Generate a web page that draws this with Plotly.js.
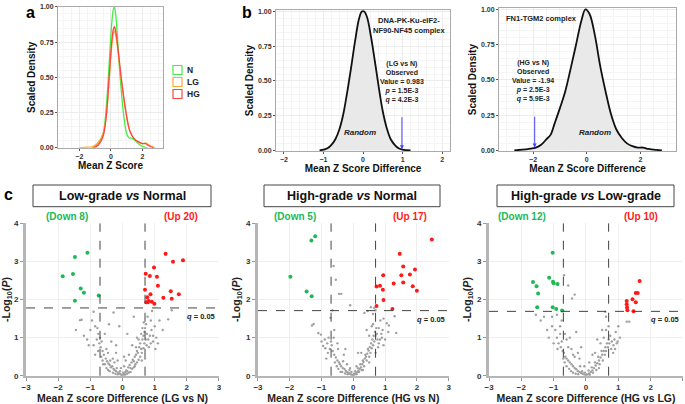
<!DOCTYPE html>
<html>
<head>
<meta charset="utf-8">
<script src="https://cdn.plot.ly/plotly-3.0.1.min.js"></script>
<style>
  body { margin: 0; background: #fff; }
  #plot { width: 685px; height: 404px; }
</style>
</head>
<body>
<div id="plot"></div>
<script>
// ---- panel a: scaled densities of mean Z score
const densX_N  = [-1.2, -0.8, -0.5, -0.3, -0.1, 0.05, 0.15, 0.22, 0.3, 0.45, 0.6, 0.8, 1.0, 1.15, 1.3, 1.55, 1.75, 2.0, 2.3];
const densY_N  = [0, 0.03, 0.1, 0.28, 0.62, 0.88, 0.98, 1.0, 0.95, 0.72, 0.48, 0.24, 0.1, 0.07, 0.07, 0.05, 0.03, 0.01, 0];
const densX_LG = [-2.0, -1.5, -1.1, -0.8, -0.5, -0.3, -0.1, 0.05, 0.15, 0.22, 0.3, 0.45, 0.6, 0.8, 1.0, 1.2, 1.5, 1.8, 2.0, 2.2, 2.4, 2.6, 2.8];
const densY_LG = [0, 0.005, 0.01, 0.04, 0.1, 0.22, 0.5, 0.72, 0.81, 0.83, 0.8, 0.68, 0.53, 0.36, 0.22, 0.12, 0.06, 0.04, 0.03, 0.035, 0.02, 0.01, 0];
const densX_HG = [-1.1, -0.8, -0.5, -0.3, -0.1, 0.05, 0.15, 0.22, 0.3, 0.45, 0.6, 0.8, 1.0, 1.2, 1.5, 1.8, 2.0, 2.2, 2.4, 2.7];
const densY_HG = [0, 0.02, 0.08, 0.22, 0.52, 0.75, 0.84, 0.86, 0.83, 0.7, 0.55, 0.37, 0.22, 0.12, 0.06, 0.04, 0.03, 0.03, 0.015, 0];
const groupNames = ["N", "LG", "HG"];
const groupColors = ["#44ee44", "#ffaa33", "#ff4444"];

// ---- panel b: random (null) distributions
const randX_b1 = [-1.1, -1.0, -0.9, -0.8, -0.7, -0.6, -0.5, -0.4, -0.3, -0.2, -0.1, -0.03, 0.03, 0.1, 0.2, 0.3, 0.4, 0.5, 0.6, 0.7, 0.8, 0.9, 1.0, 1.1, 1.2];
const randY_b1 = [0, 0.005, 0.015, 0.04, 0.08, 0.15, 0.26, 0.42, 0.6, 0.79, 0.95, 1.0, 1.0, 0.96, 0.82, 0.64, 0.45, 0.28, 0.16, 0.08, 0.04, 0.015, 0.005, 0.002, 0];
const randX_b2 = [-2.7, -2.4, -2.1, -1.9, -1.7, -1.5, -1.35, -1.2, -1.0, -0.8, -0.6, -0.4, -0.2, -0.05, 0.1, 0.3, 0.5, 0.7, 0.9, 1.1, 1.3, 1.5, 1.7, 1.9, 2.1, 2.3, 2.6, 2.8];
const randY_b2 = [0, 0.005, 0.013, 0.02, 0.04, 0.08, 0.11, 0.19, 0.3, 0.42, 0.58, 0.75, 0.92, 1.0, 0.97, 0.82, 0.6, 0.42, 0.26, 0.15, 0.09, 0.05, 0.03, 0.02, 0.02, 0.01, 0.003, 0];
const observedB1 = 0.983;
const observedB2 = -1.94;

// ---- panel c: volcano plots [mean Z diff, -log10 P]
const lgnDown = [[-1.86, 2.61], [-1.54, 2.67], [-1.48, 3.12], [-1.09, 3.23], [-1.30, 2.29], [-1.20, 2.18], [-1.48, 1.97], [-0.74, 2.11]];
const lgnUp = [[1.34, 3.20], [1.57, 2.99], [1.88, 3.03], [0.98, 2.84], [0.72, 2.68], [0.85, 2.62], [1.07, 2.60], [1.10, 2.36], [0.70, 2.26], [0.87, 2.14],
  [0.77, 2.06], [1.50, 2.22], [1.75, 2.14], [1.27, 2.05], [1.53, 2.02], [0.74, 1.93], [0.79, 1.93], [0.91, 1.94], [0.99, 1.89], [0.81, 1.96]];
const lgnGray = [[-1.32,1.46],[-1.27,1.47],[-1.45,1.2],[-1.2,1.05],[-1.1,0.95],[-1.0,1.2],[-0.9,1.68],[-0.95,1.45],[-0.85,1.3],[-0.78,1.25],[-0.75,1.1],
  [-0.8,0.95],[-0.72,0.85],[-0.68,0.75],[-0.62,0.65],[-0.58,0.55],[-0.66,0.5],[-0.52,0.45],[-0.48,0.38],[-0.44,0.32],[-0.4,0.28],[-0.36,0.22],[-0.32,0.25],
  [-0.28,0.18],[-0.25,0.15],[-0.2,0.12],[-0.18,0.2],[-0.14,0.08],[-0.1,0.06],[-0.06,0.04],[-0.03,0.02],[0,0.01],[0.03,0.03],[0.06,0.05],[0.09,0.1],
  [0.12,0.14],[0.15,0.12],[0.18,0.22],[0.22,0.28],[0.25,0.2],[0.28,0.35],[0.32,0.42],[0.35,0.38],[0.38,0.5],[0.42,0.55],[0.45,0.65],[0.48,0.6],
  [0.52,0.75],[0.55,0.85],[0.58,0.7],[0.62,0.95],[0.65,1.05],[0.68,1.15],[0.7,1.25],[0.73,1.35],[0.76,1.1],[0.8,0.95],[0.85,1.05],[0.9,1.2],
  [0.95,0.9],[1.0,1.3],[1.05,1.0],[1.1,0.85],[0.88,1.45],[0.78,1.55],[0.92,1.7],[1.15,1.45],[1.42,1.48],[1.53,1.72],[1.25,1.2],[0.35,1.55],
  [-0.28,1.66],[-0.42,1.35],[-0.55,1.1],[-0.1,1.3],[0.15,1.1],[-0.35,0.9],[-0.2,0.6],[0.1,0.4],[0.3,0.8],[0.45,1.0],[-0.6,0.3],[-0.5,0.7],
  [0.6,0.4],[-0.15,0.4],[0.2,0.55],[-0.05,0.2],[0.05,0.25],[-0.25,0.35],[0.38,0.25],
  [-0.62,0.4],[-0.55,0.3],[-0.5,0.2],[-0.45,0.15],[-0.4,0.12],[-0.38,0.4],[-0.3,0.08],[-0.22,0.05],[-0.15,0.03],[-0.08,0.12],[0.02,0.08],
  [0.08,0.02],[0.14,0.05],[0.2,0.08],[0.25,0.1],[0.3,0.18],[0.35,0.22],[0.4,0.3],[0.45,0.35],[0.5,0.42],[0.55,0.5],[0.6,0.6],[0.65,0.72],
  [0.68,0.85],[0.72,0.95],[0.75,0.8],[0.82,0.75],[0.88,0.85],[0.42,0.75],[0.5,0.95],[0.58,1.1],[0.62,1.25],[-0.7,1.0],[-0.76,0.65],
  [-0.85,0.55],[-0.9,0.8],[-1.05,0.8],[-0.65,0.9],[-0.45,0.6],[-0.3,0.45],[0.95,1.05],[1.02,0.7],[0.66,1.4],[0.7,0.45],[-0.2,0.8],[0.05,0.5]];

const hgnDown = [[-1.98, 2.60], [-1.32, 3.55], [-1.20, 3.66], [-1.47, 2.21], [-1.31, 2.09]];
const hgnUp = [[2.47, 3.58], [1.46, 3.20], [1.57, 2.87], [0.94, 2.64], [1.51, 2.64], [1.78, 2.66], [1.94, 2.79], [1.57, 2.45], [1.27, 2.42],
  [0.84, 2.36], [0.73, 2.34], [1.87, 2.35], [2.00, 2.23], [0.93, 2.26], [0.95, 1.99], [0.73, 1.83], [1.23, 1.75]];
const hgnGray = [[-0.62,2.88],[-0.55,2.52],[-0.45,2.15],[-0.38,2.15],[-0.1,1.85],[0.35,1.65],[0.45,1.7],[0.55,1.8],[0.62,1.62],[0.66,1.78],
  [0.7,1.72],[0.95,1.5],[1.05,1.38],[1.12,1.32],[1.3,1.56],[1.35,1.12],[0.85,1.45],[0.8,1.25],[-1.3,1.32],[-1.25,1.36],[-1.1,1.12],[-1.02,1.08],
  [-0.95,0.78],[-0.88,0.72],[-0.78,1.0],[-0.72,1.52],[-0.66,1.72],[-0.7,0.9],[-0.65,0.65],[-0.6,0.55],[-0.55,0.48],[-0.5,0.4],[-0.45,0.35],
  [-0.42,0.3],[-0.38,0.25],[-0.33,0.2],[-0.28,0.18],[-0.24,0.13],[-0.2,0.1],[-0.16,0.08],[-0.12,0.06],[-0.08,0.04],[-0.04,0.02],[0,0.01],
  [0.04,0.03],[0.08,0.06],[0.12,0.09],[0.16,0.13],[0.2,0.18],[0.24,0.22],[0.28,0.3],[0.32,0.36],[0.36,0.45],[0.4,0.5],[0.44,0.58],[0.48,0.66],
  [0.52,0.75],[0.56,0.85],[0.6,0.95],[0.64,1.05],[0.68,1.15],[0.72,1.25],[0.76,0.95],[0.8,0.85],[0.9,1.0],[0.95,0.8],[1.0,0.95],[0.58,1.3],
  [0.42,1.2],[0.25,0.6],[-0.3,0.55],[-0.5,0.85],[-0.8,0.6],[-0.2,0.3],[0.1,0.25],[-0.1,0.2],[0.3,0.15],[-0.35,0.1],[0.5,0.35],[-0.6,1.2],
  [0.7,0.6],[-0.85,0.45],
  [-0.58,0.35],[-0.52,0.25],[-0.47,0.18],[-0.4,0.1],[-0.32,0.38],[-0.26,0.06],[-0.18,0.04],[-0.12,0.15],[-0.06,0.1],[0.02,0.05],[0.06,0.12],
  [0.1,0.04],[0.14,0.2],[0.18,0.1],[0.22,0.3],[0.26,0.15],[0.3,0.4],[0.34,0.25],[0.38,0.55],[0.42,0.4],[0.46,0.7],[0.5,0.5],[0.54,0.6],
  [0.58,0.72],[0.62,0.8],[0.66,0.9],[0.7,1.05],[0.74,1.1],[0.78,0.75],[0.84,0.95],[0.88,1.1],[-0.68,0.8],[-0.74,0.7],[-0.82,0.85],
  [-0.9,0.95],[-1.0,0.9],[-0.62,1.0],[-0.48,0.7],[0.62,1.35],[0.5,1.05],[0.92,1.2],[1.1,1.15],[-0.25,0.7],[0.15,0.6]];

const hglDown = [[-1.03, 3.23], [-1.14, 2.57], [-1.64, 2.46], [-1.02, 2.47], [-1.00, 2.43], [-0.88, 2.41], [-1.53, 2.35], [-1.48, 2.16],
  [-1.51, 1.80], [-1.03, 1.80], [-0.92, 1.75], [-0.74, 1.71]];
const hglUp = [[1.66, 2.49], [1.54, 2.17], [1.60, 2.17], [1.44, 2.01], [1.54, 1.93], [1.26, 1.96], [1.26, 1.88], [1.27, 1.79], [1.28, 1.72], [1.47, 1.69]];
const hglGray = [[-0.68,2.64],[-0.55,2.37],[-0.35,2.13],[-0.43,2.03],[-0.9,1.6],[-1.05,1.55],[-1.3,1.55],[-1.55,1.6],[-0.75,1.45],[-0.8,1.3],
  [-0.95,1.2],[-1.05,1.3],[-1.15,1.0],[-0.9,1.0],[-0.85,0.85],[-0.78,0.75],[-0.72,0.65],[-0.68,0.6],[-0.64,0.5],[-0.6,0.45],[-0.55,0.4],
  [-0.5,0.35],[-0.45,0.3],[-0.4,0.25],[-0.35,0.2],[-0.3,0.17],[-0.25,0.12],[-0.2,0.1],[-0.15,0.07],[-0.1,0.05],[-0.05,0.03],[0,0.01],[0.05,0.03],
  [0.1,0.06],[0.15,0.1],[0.2,0.14],[0.25,0.2],[0.3,0.27],[0.35,0.33],[0.4,0.4],[0.45,0.48],[0.5,0.55],[0.55,0.65],[0.6,0.75],[0.65,0.85],
  [0.7,0.95],[0.75,1.05],[0.8,0.9],[0.85,0.8],[0.9,0.7],[0.95,0.85],[0.7,1.3],[0.62,1.55],[0.6,1.68],[0.5,1.2],[0.35,0.95],[0.2,0.55],
  [-0.2,0.45],[-0.45,0.7],[-0.6,0.95],[-0.5,1.0],[-0.3,1.15],[-0.15,0.75],[0.1,0.35],[-0.05,0.25],[1.26,1.42],[1.34,1.42],[1.0,1.3],
  [0.92,1.15],[-1.4,1.45],[-1.2,1.2],[-0.7,1.7],[0.4,0.2],[-0.35,0.5],
  [-0.7,0.45],[-0.66,0.35],[-0.6,0.25],[-0.52,0.18],[-0.46,0.12],[-0.4,0.08],[-0.32,0.05],[-0.24,0.04],[-0.18,0.25],[-0.12,0.12],[-0.04,0.08],
  [0.02,0.04],[0.08,0.14],[0.12,0.02],[0.18,0.22],[0.22,0.08],[0.28,0.35],[0.32,0.15],[0.38,0.5],[0.42,0.3],[0.48,0.65],[0.52,0.4],[0.58,0.55],
  [0.62,0.65],[0.68,0.75],[0.72,0.85],[0.78,0.7],[0.84,0.6],[0.88,0.95],[0.98,0.9],[1.05,1.0],[-0.75,0.9],[-0.8,1.1],[-0.88,0.7],
  [-1.0,0.85],[-0.65,1.1],[-0.55,0.75],[-0.4,0.55],[0.55,1.0],[0.45,0.85],[0.28,0.6],[-0.25,0.6],[0.62,1.2]];

const volcanoTitles = ["Low-grade <i>vs</i> Normal", "High-grade <i>vs</i> Normal", "High-grade <i>vs</i> Low-grade"];
const volcanoXTitles = ["Mean Z score Difference (LG vs N)", "Mean Z score Difference (HG vs N)", "Mean Z score Difference (HG vs LG)"];
const downLabels = ["(Down 8)", "(Down 5)", "(Down 12)"];
const upLabels = ["(Up 20)", "(Up 17)", "(Up 10)"];
const qLines = [1.78, 1.71, 1.69];
const fcCut = 0.7;

const FONT = "Liberation Sans, Arial, sans-serif";
const GREEN = "#1db954";
const RED = "#ff1a1a";

let data = [];

// panel a
[[densX_N, densY_N], [densX_LG, densY_LG], [densX_HG, densY_HG]].forEach(function (d, i) {
  data.push({x: d[0], y: d[1], type: "scatter", mode: "lines", name: groupNames[i], showlegend: false,
    line: {color: groupColors[i], width: 1.3, shape: "spline"}, xaxis: "x", yaxis: "y"});
});

// panel b
data.push({x: randX_b1, y: randY_b1, type: "scatter", mode: "lines", fill: "tozeroy", fillcolor: "#e9e9e9",
  line: {color: "#111", width: 1.8, shape: "spline"}, showlegend: false, xaxis: "x2", yaxis: "y2"});
data.push({x: randX_b2, y: randY_b2, type: "scatter", mode: "lines", fill: "tozeroy", fillcolor: "#e9e9e9",
  line: {color: "#111", width: 1.8, shape: "spline"}, showlegend: false, xaxis: "x3", yaxis: "y3"});

// panel c
const volcanoSets = [[lgnGray, lgnDown, lgnUp], [hgnGray, hgnDown, hgnUp], [hglGray, hglDown, hglUp]];
volcanoSets.forEach(function (set, i) {
  const xa = "x" + (i + 4), ya = "y" + (i + 4);
  data.push({x: set[0].map(p => p[0]), y: set[0].map(p => p[1]), type: "scatter", mode: "markers",
    marker: {color: "#a0a0a0", size: 2.4}, showlegend: false, xaxis: xa, yaxis: ya});
  data.push({x: set[1].map(p => p[0]), y: set[1].map(p => p[1]), type: "scatter", mode: "markers",
    marker: {color: GREEN, size: 4}, showlegend: false, xaxis: xa, yaxis: ya});
  data.push({x: set[2].map(p => p[0]), y: set[2].map(p => p[1]), type: "scatter", mode: "markers",
    marker: {color: RED, size: 4}, showlegend: false, xaxis: xa, yaxis: ya});
});

const tickF = {family: FONT, size: 7, color: "#333", weight: "bold"};
const titleF = {family: FONT, size: 10, color: "#111", weight: "bold"};

function densAxis(domain, range, tickvals, anchor, title) {
  return {domain: domain, range: range, tickvals: tickvals, anchor: anchor, showline: true, mirror: true,
    linecolor: "#aaa", linewidth: 1, ticks: "outside", ticklen: 2, tickcolor: "#555", gridcolor: "#ececec",
    zeroline: false, tickfont: tickF, title: {text: title, font: titleF, standoff: 2},
    minor: {showgrid: true, gridcolor: "#f5f5f5"}};
}
function volcX(domain, anchor, title) {
  return {domain: domain, range: [-3, 3], dtick: 1, anchor: anchor, showline: true, linecolor: "#b5b5b5", linewidth: 2,
    ticks: "outside", ticklen: 3, tickcolor: "#999", gridcolor: "#efefef", zeroline: false,
    tickfont: {family: FONT, size: 8, color: "#333", weight: "bold"}, title: {text: title, font: {family: FONT, size: 10.5, color: "#222", weight: "bold"}, standoff: 6}};
}
function volcY(domain, anchor) {
  return {domain: domain, range: [0, 4], dtick: 1, anchor: anchor, showline: true, linecolor: "#b5b5b5", linewidth: 3,
    ticks: "outside", ticklen: 3, tickcolor: "#999", gridcolor: "#efefef", zeroline: false,
    tickfont: {family: FONT, size: 8, color: "#333", weight: "bold"},
    title: {text: "-Log<sub>10</sub>(<i>P</i>)", font: {family: FONT, size: 10.5, color: "#222", weight: "bold"}, standoff: 4}};
}

const vDomY = [0.070, 0.447];
const vDomX = [[0.038, 0.3197], [0.3766, 0.655], [0.7139, 0.997]];

let layout = {
  width: 685, height: 404,
  margin: {l: 0, r: 0, t: 0, b: 0},
  paper_bgcolor: "#fff", plot_bgcolor: "#fff",
  font: {family: FONT},
  showlegend: false,
  xaxis: densAxis([0.0847, 0.238], [-3.35, 3.3], [-2, 0, 2], "y", "Mean Z Score"),
  yaxis: densAxis([0.634, 0.983], [0, 1.0], [0, 0.25, 0.5, 0.75, 1], "x", "Scaled Density"),
  xaxis2: densAxis([0.403, 0.657], [-2.2, 2.2], [-2, -1, 0, 1, 2], "y2", "Mean Z Score Difference"),
  yaxis2: densAxis([0.626, 0.975], [-0.005, 1.01], [0, 0.25, 0.5, 0.75, 1], "x2", "Scaled Density"),
  xaxis3: densAxis([0.7285, 0.987], [-3.27, 3.33], [-2, 0, 2], "y3", "Mean Z Score Difference"),
  yaxis3: densAxis([0.626, 0.98], [-0.005, 1.01], [0, 0.25, 0.5, 0.75, 1], "x3", "Scaled Density"),
  xaxis4: volcX(vDomX[0], "y4", volcanoXTitles[0]),
  yaxis4: volcY(vDomY, "x4"),
  xaxis5: volcX(vDomX[1], "y5", volcanoXTitles[1]),
  yaxis5: volcY(vDomY, "x5"),
  xaxis6: volcX(vDomX[2], "y6", volcanoXTitles[2]),
  yaxis6: volcY(vDomY, "x6"),
  shapes: [],
  annotations: []
};
layout.yaxis.tickformat = ".2f";
layout.yaxis2.tickformat = ".2f";
layout.yaxis3.tickformat = ".2f";

// panel letters
[["a", 0.045, 0.995], ["b", 0.36, 0.995], ["c", 0.012, 0.545]].forEach(function (l) {
  layout.annotations.push({text: l[0], xref: "paper", yref: "paper", x: l[1], y: l[2], xanchor: "center", yanchor: "top",
    showarrow: false, font: {family: FONT, size: 16, color: "#000", weight: "bold"}});
});

// panel a legend (ggplot-style keys)
const legendY = [70, 82, 94];
groupNames.forEach(function (g, i) {
  layout.shapes.push({type: "rect", xref: "paper", yref: "paper", x0: 173 / 685, x1: 182 / 685,
    y0: 1 - (legendY[i] + 4.5) / 404, y1: 1 - (legendY[i] - 4.5) / 404, line: {color: groupColors[i], width: 1.2}, fillcolor: "#fff"});
  layout.annotations.push({xref: "paper", yref: "paper", x: 185 / 685, y: 1 - legendY[i] / 404, xanchor: "left", yanchor: "middle",
    showarrow: false, text: g, font: {family: FONT, size: 8.5, color: "#222", weight: "bold"}});
});

// panel b labels and arrows
const obsFont = {family: FONT, size: 7, color: "#222", weight: "bold"};
layout.annotations.push({xref: "x2", yref: "y2", x: 2.15, y: 0.985, xanchor: "right", yanchor: "top", showarrow: false,
  text: "DNA-PK-Ku-eIF2-<br>NF90-NF45 complex", align: "center", font: {family: FONT, size: 7.5, color: "#222", weight: "bold"}});
layout.annotations.push({xref: "x2", yref: "y2", x: observedB1, y: 0.32, showarrow: false, yanchor: "bottom",
  text: "(LG vs N)<br>Observed<br>Value = " + observedB1 + "<br><i>p</i> = 1.5E-3<br><i>q</i> = 4.2E-3", font: obsFont});
layout.annotations.push({xref: "x2", yref: "y2", axref: "x2", ayref: "y2", x: observedB1, y: 0.008, ax: observedB1, ay: 0.3,
  showarrow: true, arrowhead: 2, arrowsize: 0.8, arrowwidth: 1, arrowcolor: "#4444ff", text: " "});
layout.annotations.push({xref: "x2", yref: "y2", x: -0.08, y: 0.13, showarrow: false, text: "<i>Random</i>",
  font: {family: FONT, size: 8, color: "#222", weight: "bold"}});

layout.annotations.push({xref: "x3", yref: "y3", x: -3.1, y: 0.985, xanchor: "left", yanchor: "top", showarrow: false,
  text: "FN1-TGM2 complex", font: {family: FONT, size: 7.5, color: "#222", weight: "bold"}});
layout.annotations.push({xref: "x3", yref: "y3", x: -2.0, y: 0.32, showarrow: false, yanchor: "bottom",
  text: "(HG vs N)<br>Observed<br>Value = " + observedB2 + "<br><i>p</i> = 2.5E-3<br><i>q</i> = 5.9E-3", font: obsFont});
layout.annotations.push({xref: "x3", yref: "y3", axref: "x3", ayref: "y3", x: observedB2, y: 0.02, ax: observedB2, ay: 0.3,
  showarrow: true, arrowhead: 2, arrowsize: 0.8, arrowwidth: 1, arrowcolor: "#4444ff", text: " "});
layout.annotations.push({xref: "x3", yref: "y3", x: 0.29, y: 0.13, showarrow: false, text: "<i>Random</i>",
  font: {family: FONT, size: 8, color: "#222", weight: "bold"}});

// panel c title boxes, threshold lines, labels
const boxX = [[33, 211], [264, 440], [497, 674]];
const downX = [-1.74, -1.85, -1.98];
const upX = [1.82, 1.78, 1.70];
for (let i = 0; i < 3; i++) {
  const xa = "x" + (i + 4), ya = "y" + (i + 4);
  layout.shapes.push({type: "rect", xref: "paper", yref: "paper", x0: boxX[i][0] / 685, x1: boxX[i][1] / 685,
    y0: 1 - 206.7 / 404, y1: 1 - 185 / 404, line: {color: "#444", width: 1}, fillcolor: "rgba(0,0,0,0)"});
  layout.annotations.push({xref: "paper", yref: "paper", x: (boxX[i][0] + boxX[i][1]) / 2 / 685, y: 1 - 196 / 404,
    xanchor: "center", yanchor: "middle",
    text: volcanoTitles[i], showarrow: false, font: {family: FONT, size: 12.5, color: "#111", weight: "bold"}});
  [-fcCut, fcCut].forEach(function (v) {
    layout.shapes.push({type: "line", xref: xa, yref: ya + " domain", x0: v, x1: v, y0: 0, y1: 1,
      line: {color: "#444", width: 1, dash: "dash"}});
  });
  layout.shapes.push({type: "line", xref: xa + " domain", yref: ya, x0: 0, x1: 1, y0: qLines[i], y1: qLines[i],
    line: {color: "#444", width: 1, dash: "dash"}});
  layout.annotations.push({xref: xa, yref: ya, x: 2.95, y: qLines[i] - 0.05, xanchor: "right", yanchor: "top",
    showarrow: false, text: "<i>q</i> = 0.05", font: {family: FONT, size: 7.5, color: "#222", weight: "bold"}});
  layout.annotations.push({xref: xa, yref: "paper", x: downX[i], y: 1 - 216 / 404, xanchor: "center", yanchor: "middle", showarrow: false,
    text: downLabels[i], font: {family: FONT, size: 10, color: GREEN, weight: "bold"}});
  layout.annotations.push({xref: xa, yref: "paper", x: upX[i], y: 1 - 216 / 404, xanchor: "center", yanchor: "middle", showarrow: false,
    text: upLabels[i], font: {family: FONT, size: 10, color: RED, weight: "bold"}});
}

Plotly.newPlot("plot", data, layout, {displayModeBar: false});
</script>
</body>
</html>
